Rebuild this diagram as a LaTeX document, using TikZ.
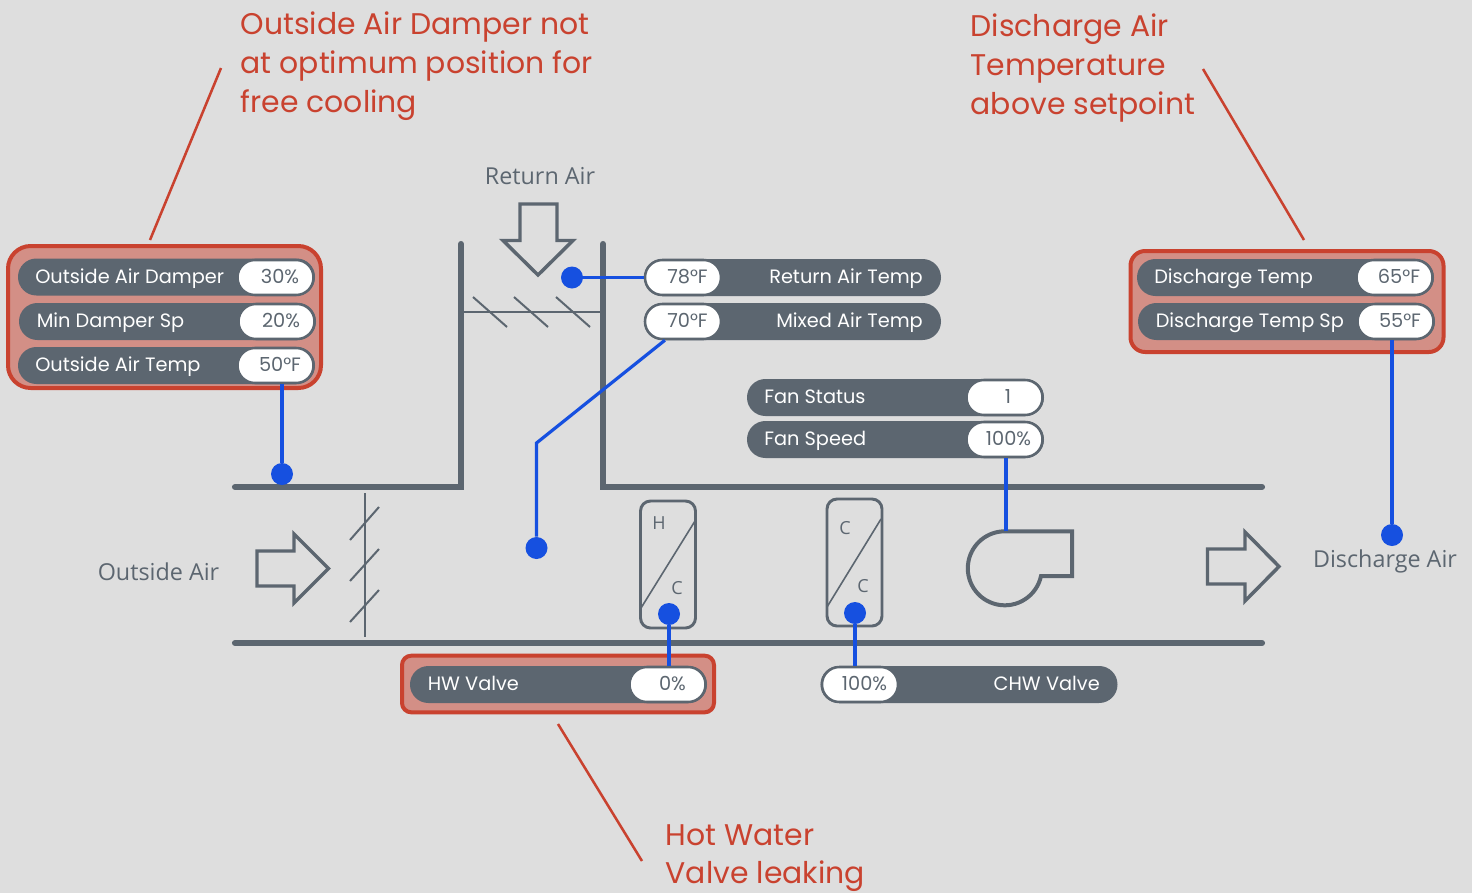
\documentclass[tikz,border=0pt]{standalone}
\usepackage{fontspec}
\setmainfont{Poppins}
\newfontfamily\labelfont{Open Sans}
\definecolor{bggrey}{HTML}{DEDEDE}
\definecolor{ductgrey}{HTML}{5C6670}
\definecolor{alertred}{HTML}{C9422F}
\definecolor{alertfill}{HTML}{D38F86}
\definecolor{pointblue}{HTML}{1650E0}
\tikzstyle{pill} = [fill=ductgrey, rounded corners=13.8pt, inner sep=0pt, minimum width=222.75pt, minimum height=27.75pt]
\tikzstyle{valpill} = [fill=white, draw=ductgrey, line width=1.9pt, rounded corners=13pt, inner sep=0pt, minimum width=57pt, minimum height=26.25pt]
\tikzstyle{pilltext} = [text=white, font=\fontsize{14.5}{16}\selectfont, anchor=west, inner sep=0pt, text height=9pt, text depth=0pt]
\tikzstyle{valtext} = [text=ductgrey, font=\fontsize{14.5}{16}\selectfont, inner sep=0pt, text height=9pt, text depth=0pt]
\tikzstyle{alertbox} = [draw=alertred, fill=alertfill, line width=3pt, rounded corners=17pt]
\tikzstyle{alerttext} = [text=alertred, font=\fontsize{22.4}{28.9}\selectfont, align=left, anchor=north west, inner sep=0pt]
\tikzstyle{leader} = [draw=alertred, line width=1.9pt]
\tikzstyle{duct} = [draw=ductgrey, line width=4.6pt, line cap=round, line join=miter]
\tikzstyle{thin} = [draw=ductgrey, line width=1.5pt]
\tikzstyle{airarrow} = [draw=ductgrey, line width=2.6pt, line join=miter]
\tikzstyle{coil} = [draw=ductgrey, line width=2.2pt, rounded corners=7.5pt]
\tikzstyle{airtext} = [text=ductgrey, font=\labelfont\fontsize{17.5}{20}\selectfont, inner sep=0pt]
\tikzstyle{coiltext} = [text=ductgrey, font=\labelfont\fontsize{13.5}{16}\selectfont, inner sep=0pt]
\tikzstyle{dot} = [circle, fill=pointblue, inner sep=0pt, minimum size=16.5pt]
\tikzstyle{wire} = [draw=pointblue, line width=2.4pt]

\begin{document}
\begin{tikzpicture}[x=.75pt,y=-.75pt]
      \fill[bggrey] (0,0) rectangle (1472,893);
      \useasboundingbox (0,0) rectangle (1472,893);

      % duct walls
      \draw[duct] (235,487) -- (461,487) -- (461,244);
      \draw[duct] (603,244) -- (603,487) -- (1262,487);
      \draw[duct] (235,643) -- (1262,643);

      % return air damper
      \draw[thin] (463,312) -- (603,312);
      \draw[thin] (473,297) -- (507,327);
      \draw[thin] (514,297) -- (548,327);
      \draw[thin] (556,297) -- (590,327);

      % outside air damper
      \draw[thin] (365,493) -- (365,637);
      \draw[thin] (350,540) -- (379,507);
      \draw[thin] (350,581) -- (379,549);
      \draw[thin] (350,622) -- (379,590);

      % arrows
      \draw[airarrow] (520,204) -- (557,204) -- (557,240.5) -- (573,240.5) -- (538,275) -- (503,240.5) -- (520,240.5) -- cycle;
      \draw[airarrow] (257,551) -- (294,551) -- (294,534) -- (328.5,568.5) -- (294,603) -- (294,586) -- (257,586) -- cycle;
      \draw[airarrow] (1207.5,549) -- (1245,549) -- (1245,532) -- (1279,566.5) -- (1245,601) -- (1245,584) -- (1207.5,584) -- cycle;

      % coils
      \draw[coil] (640.5,501) rectangle (695.5,628);
      \draw[thin,line width=1.2pt] (641,608) -- (695,521);
      \draw[coil] (827,499) rectangle (882,626);
      \draw[thin,line width=1.2pt] (827,607) -- (881,519);
      \node[coiltext] (heatH) at (659,523) {H};
      \node[coiltext] (heatC) at (677,588) {C};
      \node[coiltext] (coolCa) at (845,528) {C};
      \node[coiltext] (coolCb) at (863,586) {C};

      % fan
      \draw[ductgrey, line width=3pt, line join=miter] (1041,576) arc[start angle=12, end angle=270, radius=37] -- (1072,531.3) -- (1072,576) -- cycle;
      \coordinate (fantop) at (1006,531);

      % alert boxes
      \node[alertbox, minimum width=234.75pt, minimum height=106.5pt] (damperbox) at (164.5,317) {};
      \node[alertbox, rounded corners=11pt, minimum width=234.75pt, minimum height=75.75pt] (dischargebox) at (1287,301.5) {};
      \node[alertbox, rounded corners=7pt, minimum width=234pt, minimum height=42.5pt] (hwbox) at (558,684) {};

      % points
      \node[pill] (oad) at (166.5,277) {};
      \node[valpill] (oadval) at (275.5,277.5) {};
      \node[pilltext] (oadtext) at (35,277) {Outside Air Damper};
      \node[valtext] (oadnum) at (280,277) {30\%};

      \node[pill] (mds) at (167.5,321.5) {};
      \node[valpill] (mdsval) at (276.5,321.5) {};
      \node[pilltext] (mdstext) at (36.5,321.5) {Min Damper Sp};
      \node[valtext] (mdsnum) at (281,321.5) {20\%};

      \node[pill] (oat) at (166.5,365.5) {};
      \node[valpill] (oatval) at (275.5,365.5) {};
      \node[pilltext] (oattext) at (35,365) {Outside Air Temp};
      \node[valtext] (oatnum) at (280,365) {50°F};

      \node[pill] (rat) at (792.5,277.5) {};
      \node[valpill] (ratval) at (683,277.5) {};
      \node[pilltext, anchor=east] (rattext) at (923,277) {Return Air Temp};
      \node[valtext] (ratnum) at (687.5,277) {78°F};

      \node[pill] (mat) at (792.5,321.5) {};
      \node[valpill] (matval) at (683,321.5) {};
      \node[pilltext, anchor=east] (mattext) at (923,321) {Mixed Air Temp};
      \node[valtext] (matnum) at (687.5,321) {70°F};

      \node[pill] (fanst) at (895.5,397.5) {};
      \node[valpill] (fanstval) at (1004.5,397.5) {};
      \node[pilltext] (fansttext) at (764,397) {Fan Status};
      \node[valtext] (fanstnum) at (1008,397) {1};

      \node[pill] (fansp) at (895.5,439.5) {};
      \node[valpill] (fanspval) at (1004.5,439.5) {};
      \node[pilltext] (fansptext) at (764,439) {Fan Speed};
      \node[valtext] (fanspnum) at (1008.5,439) {100\%};

      \node[pill] (hw) at (558.5,684.5) {};
      \node[valpill] (hwval) at (667.5,684.5) {};
      \node[pilltext] (hwtext) at (427.5,684) {HW Valve};
      \node[valtext] (hwnum) at (672.5,684) {0\%};

      \node[pill] (chw) at (969,684.5) {};
      \node[valpill] (chwval) at (860,684.5) {};
      \node[pilltext, anchor=east] (chwtext) at (1100,684) {CHW Valve};
      \node[valtext] (chwnum) at (864.5,684) {100\%};

      \node[pill] (dt) at (1285.5,277.5) {};
      \node[valpill] (dtval) at (1394.5,277.5) {};
      \node[pilltext] (dttext) at (1154,277) {Discharge Temp};
      \node[valtext] (dtnum) at (1399,277) {65°F};

      \node[pill] (dts) at (1286.5,321.5) {};
      \node[valpill] (dtsval) at (1395.5,321.5) {};
      \node[pilltext] (dtstext) at (1155.5,321) {Discharge Temp Sp};
      \node[valtext] (dtsnum) at (1400,321) {55°F};

      % sensors
      \node[dot] (oatdot) at (282,474) {};
      \node[dot] (ratdot) at (572,277.5) {};
      \node[dot] (matdot) at (536.5,548) {};
      \node[dot] (hwdot) at (669,614) {};
      \node[dot] (chwdot) at (855,613) {};
      \node[dot] (dtdot) at (1392,535) {};
      \coordinate (matbend) at (536.5,443);

      \draw[wire] (oatdot) -- (oatdot |- oatval.south);
      \draw[wire] (ratdot) -- (ratval.west);
      \draw[wire] (matdot) -- (matbend) -- (matval.-134);
      \draw[wire] (hwdot) -- (hwdot |- hwval.north);
      \draw[wire] (chwdot) -- (chwdot |- chwval.north);
      \draw[wire] (dtdot) -- (dtdot |- dtsval.south);
      \draw[wire] (fantop) -- (fantop |- fanspval.south);

      % air labels
      \node[airtext] (returnair) at (540,176) {Return Air};
      \node[airtext] (outsideair) at (158.5,572) {Outside Air};
      \node[airtext] (dischargeair) at (1385,561.5) {Discharge Air};

      % callouts
      \node[alerttext] (dampernote) at (240.5,12) {Outside Air Damper not\\at optimum position for\\free cooling};
      \node[alerttext] (tempnote) at (970.5,14) {Discharge Air\\Temperature\\above setpoint};
      \node[alerttext] (valvenote) at (665.5,824) {Hot Water\\Valve leaking};

      \coordinate (dampera) at (221,68);
      \coordinate (damperb) at (150,240);
      \coordinate (tempa) at (1203,69);
      \coordinate (tempb) at (1304,240);
      \coordinate (valvea) at (558,724);
      \coordinate (valveb) at (642,861);
      \draw[leader] (dampera) -- (damperb);
      \draw[leader] (tempa) -- (tempb);
      \draw[leader] (valvea) -- (valveb);
\end{tikzpicture}
\end{document}
